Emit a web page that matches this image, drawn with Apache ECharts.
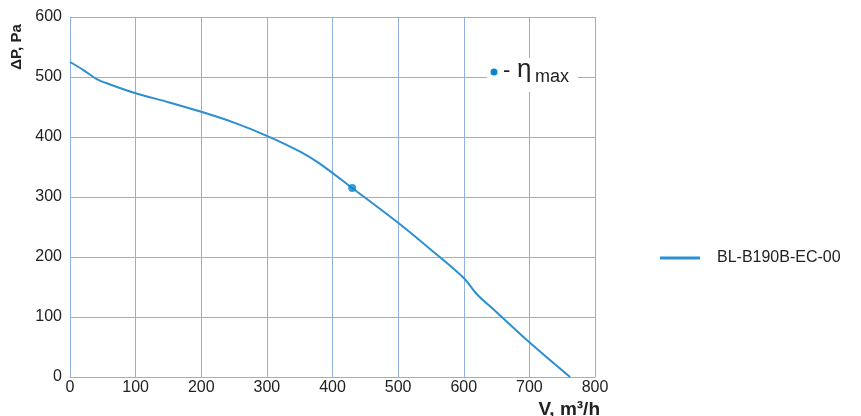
<!DOCTYPE html>
<html><head><meta charset="utf-8">
<script src="https://cdn.jsdelivr.net/npm/echarts@6/dist/echarts.min.js"></script>
<style>html,body{margin:0;padding:0;background:#fff}#c{width:861px;height:416px}</style>
</head><body><div id="c"></div>
<script>
const flowValues = [0, 20, 40, 60, 100, 150, 200, 250, 300, 350, 380, 430, 500, 550, 600, 620, 650, 700, 762];
const pressureValues = [525, 512, 497, 488, 473, 458, 442, 424, 402, 376, 356, 315, 257, 212, 165, 138, 108, 58, 0];
const etaMax = [430, 315];
const seriesName = 'BL-B190B-EC-00';
const xTicks = [0, 100, 200, 300, 400, 500, 600, 700, 800];
const yTicks = [0, 100, 200, 300, 400, 500, 600];

const chart = echarts.init(document.getElementById('c'));
const font = 'Liberation Sans, Arial, sans-serif';
const gridColor = '#8fb0e0';
const lineColor = '#2b8fd1';
chart.setOption({
  animation: false,
  textStyle: {fontFamily: font},
  grid: {left: 70, right: 266, top: 17, bottom: 39, outerBoundsMode: 'none', containLabel: false},
  legend: {
    data: [seriesName], left: 655, top: 245, orient: 'vertical',
    icon: 'path://M0,0H40V3H0Z', itemWidth: 48, itemHeight: 3, itemGap: 10,
    textStyle: {fontSize: 16, color: '#222', fontFamily: font, padding: [0, 0, 0, 8]}
  },
  xAxis: {
    type: 'value', min: xTicks[0], max: xTicks[xTicks.length - 1], interval: 100,
    axisLine: {show: true, lineStyle: {color: gridColor}},
    axisTick: {show: false},
    axisLabel: {fontSize: 16, color: '#222', margin: 3},
    splitLine: {show: true, lineStyle: {color: gridColor, width: 1}}
  },
  yAxis: {
    type: 'value', min: yTicks[0], max: yTicks[yTicks.length - 1], interval: 100,
    axisLine: {show: true, lineStyle: {color: gridColor}},
    axisTick: {show: false},
    axisLabel: {fontSize: 16, color: '#222', margin: 8},
    splitLine: {show: true, lineStyle: {color: gridColor, width: 1}}
  },
  graphic: [{
    type: 'text', x: 17, y: 47, rotation: Math.PI / 2,
    style: {text: 'ΔP, Pa', fontSize: 15, fontWeight: 'bold', fill: '#222', fontFamily: font, align: 'center', verticalAlign: 'middle'}
  }, {
    type: 'text', x: 600, y: 400,
    style: {text: 'V, m³/h', fontSize: 19, fontWeight: 'bold', fill: '#222', fontFamily: font, align: 'right', verticalAlign: 'top'}
  }, {
    type: 'group', x: 0, y: 0, z: 100,
    children: [
      {type: 'rect', z: 100, shape: {x: 487, y: 58, width: 91, height: 34}, style: {fill: '#fff'}},
      {type: 'circle', z: 101, shape: {cx: 494, cy: 72, r: 3.5}, style: {fill: '#0a85cc'}},
      {type: 'text', z: 101, x: 503, y: 82, style: {text: '-', fontSize: 22, fill: '#222', fontFamily: font, verticalAlign: 'bottom'}},
      {type: 'text', z: 101, x: 517, y: 83, style: {text: 'η', fontSize: 26, fill: '#222', fontFamily: font, verticalAlign: 'bottom'}},
      {type: 'text', z: 101, x: 535, y: 86, style: {text: 'max', fontSize: 18, fill: '#222', fontFamily: font, verticalAlign: 'bottom'}}
    ]
  }],
  series: [{
    name: seriesName, type: 'line', smooth: 0.3, showSymbol: false,
    data: flowValues.map((v, i) => [v, pressureValues[i]]),
    lineStyle: {color: lineColor, width: 2}, itemStyle: {color: lineColor}
  }, {
    name: 'eta', type: 'scatter', data: [etaMax], symbolSize: 8,
    itemStyle: {color: '#0a85cc'}, z: 5
  }]
});
</script></body></html>
